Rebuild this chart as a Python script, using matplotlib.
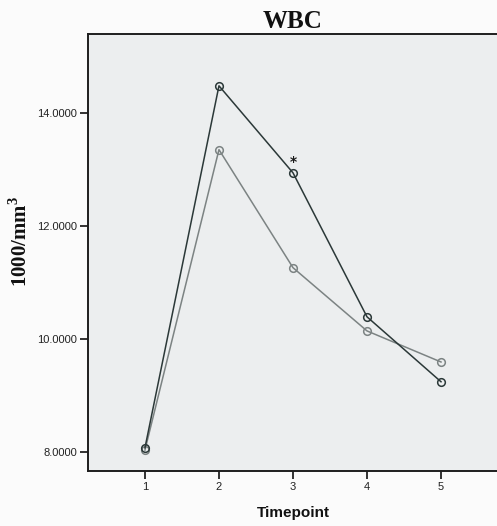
import matplotlib
matplotlib.use("Agg")
import matplotlib.pyplot as plt

plt.rcParams["mathtext.fontset"] = "custom"
plt.rcParams["mathtext.rm"] = "Liberation Serif:bold"
plt.rcParams["mathtext.bf"] = "Liberation Serif:bold"

timepoints = [1, 2, 3, 4, 5]
group_a = [8.07, 14.48, 12.94, 10.39, 9.24]   # dark series
group_b = [8.03, 13.35, 11.26, 10.14, 9.59]   # light series
y_ticks = [8.0, 10.0, 12.0, 14.0]
y_tick_labels = ["8.0000", "10.0000", "12.0000", "14.0000"]
sig_timepoint = 3

fig = plt.figure(figsize=(4.97, 5.26), dpi=100)
fig.patch.set_facecolor("#fbfbfb")
ax = fig.add_axes([0.177, 0.1046, 0.825, 0.831])
ax.set_facecolor("#eceeef")

ax.plot(timepoints, group_b, color="#7c8383", lw=1.1, marker="o", ms=5.5,
        mfc="none", mec="#7c8383", mew=1.1, zorder=3)
ax.plot(timepoints, group_a, color="#2b3838", lw=1.1, marker="o", ms=5.5,
        mfc="none", mec="#2b3838", mew=1.1, zorder=4)

i = timepoints.index(sig_timepoint)
ax.annotate("*", (sig_timepoint, group_a[i]), xytext=(0, 3),
            textcoords="offset points", ha="center", va="bottom",
            fontsize=10, fontweight="bold", color="#1a1a1a")

ax.set_xlim(0.23, 5.77)
ax.set_ylim(7.66, 15.4)
ax.set_xticks(timepoints)
ax.set_xticklabels([str(t) for t in timepoints])
ax.set_yticks(y_ticks)
ax.set_yticklabels(y_tick_labels)
ax.tick_params(axis="both", labelsize=8, length=6, width=1.3, color="#222222",
               labelcolor="#222222", pad=2)
for lbl in ax.get_xticklabels() + ax.get_yticklabels():
    lbl.set_fontfamily("Liberation Sans")

for s in ax.spines.values():
    s.set_linewidth(1.4)
    s.set_color("#1e1e1e")

ax.set_title("WBC", fontsize=18, fontweight="bold", family="Liberation Serif",
             pad=4, color="#111111")
ax.set_xlabel("Timepoint", fontsize=11, fontweight="bold",
              family="Liberation Sans", labelpad=10, color="#111111")
ax.set_ylabel("1000/mm$^{3}$", fontsize=15, fontweight="bold",
              family="Liberation Serif", color="#111111")
ax.yaxis.set_label_coords(-0.137, 0.526)

fig.savefig("out.png", dpi=100, facecolor=fig.get_facecolor())
